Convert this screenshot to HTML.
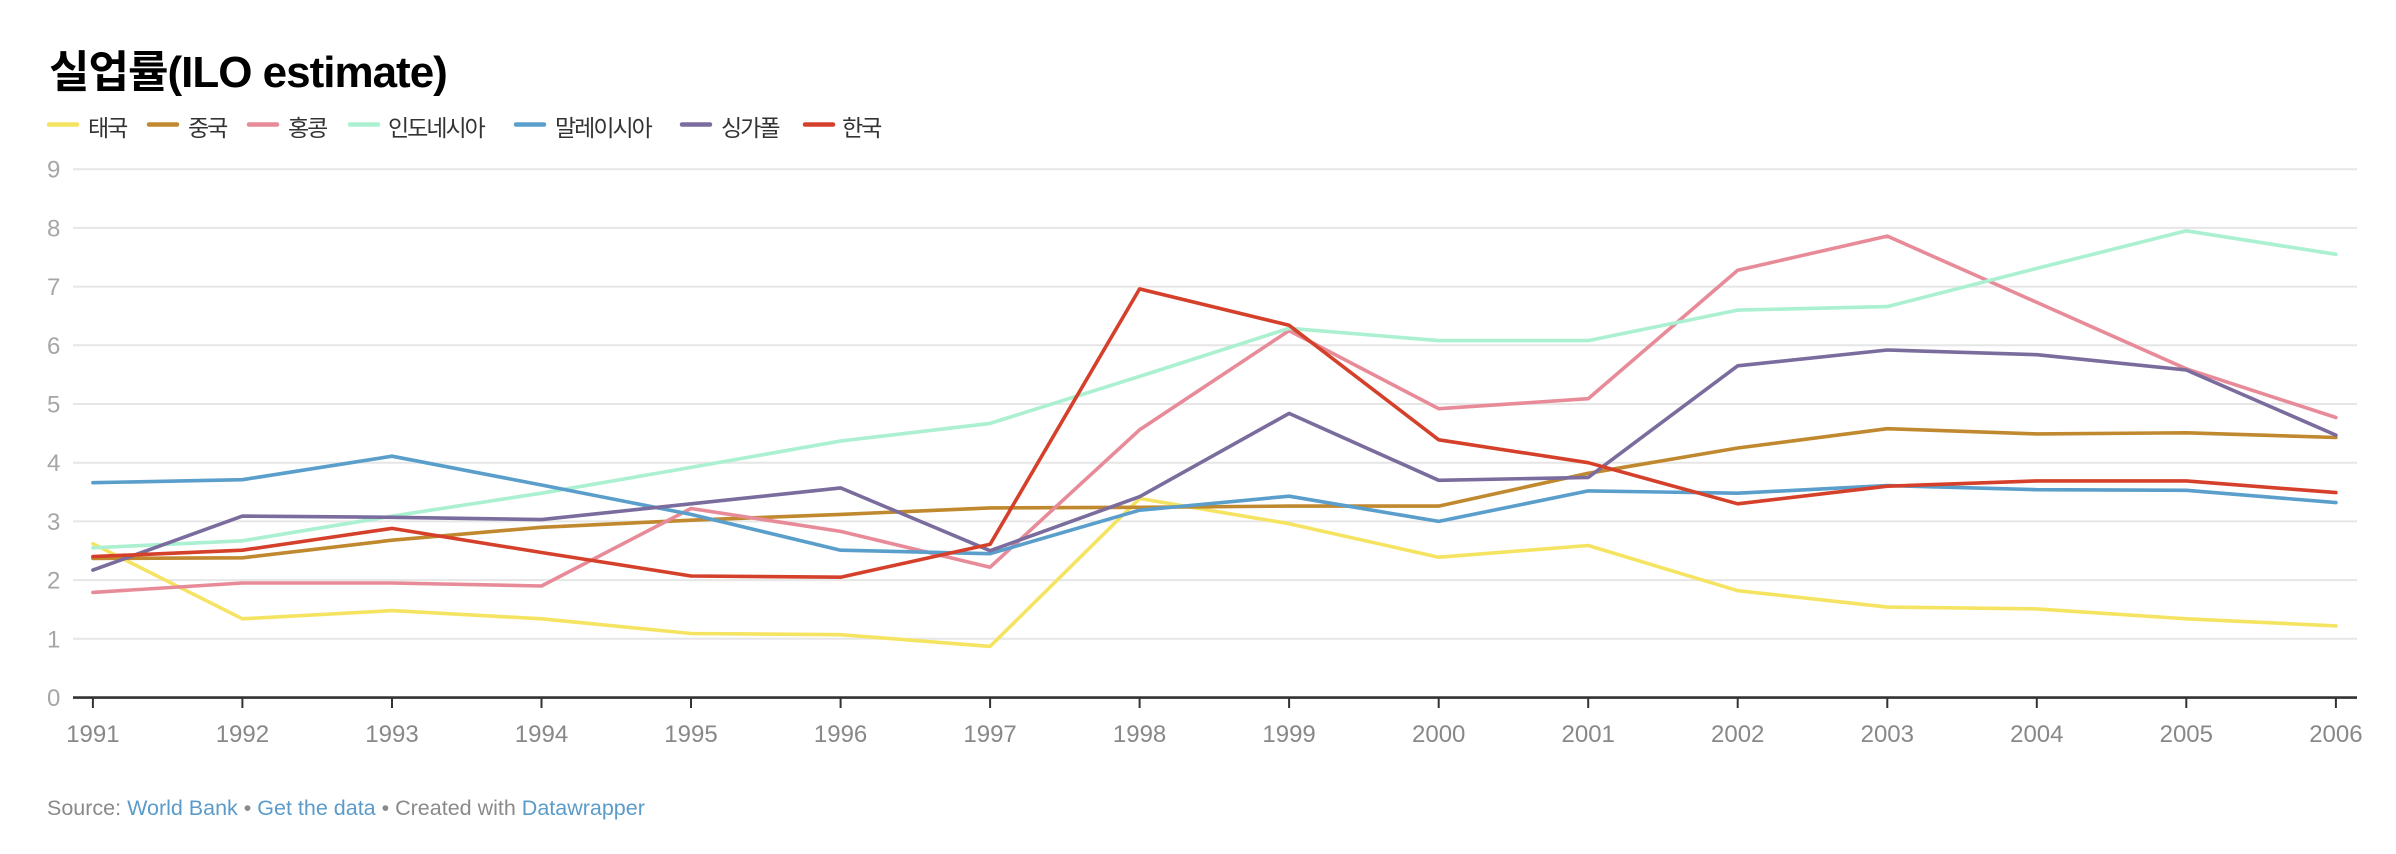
<!DOCTYPE html>
<html>
<head>
<meta charset="utf-8">
<style>
html,body{margin:0;padding:0;background:#fff;}
body{width:2396px;height:854px;overflow:hidden;}
svg{display:block;}
text{font-family:"Liberation Sans","Noto Sans CJK KR",sans-serif;}
</style>
</head>
<body>
<svg width="2396" height="854" viewBox="0 0 2396 854" xmlns="http://www.w3.org/2000/svg">
  <rect width="2396" height="854" fill="#fff"/>
  <!-- title -->
  <text x="49" y="87" font-size="44" font-weight="bold" fill="#000" letter-spacing="-1.0">실업률(ILO estimate)</text>

  <!-- legend -->
  <g stroke-width="4.5" stroke-linecap="round">
    <line x1="49" y1="124.5" x2="77" y2="124.5" stroke="#f5e462"/>
    <line x1="149" y1="124.5" x2="177" y2="124.5" stroke="#c0892f"/>
    <line x1="249" y1="124.5" x2="277" y2="124.5" stroke="#e88b99"/>
    <line x1="350" y1="124.5" x2="378" y2="124.5" stroke="#aaf0d1"/>
    <line x1="516" y1="124.5" x2="544" y2="124.5" stroke="#5a9ecb"/>
    <line x1="682" y1="124.5" x2="710" y2="124.5" stroke="#7b6c9e"/>
    <line x1="805" y1="124.5" x2="833" y2="124.5" stroke="#d5402b"/>
  </g>
  <g font-size="23" fill="#333" letter-spacing="-2">
    <text x="88" y="136">태국</text>
    <text x="188" y="136">중국</text>
    <text x="288" y="136">홍콩</text>
    <text x="388" y="136">인도네시아</text>
    <text x="555" y="136">말레이시아</text>
    <text x="721" y="136">싱가폴</text>
    <text x="842" y="136">한국</text>
  </g>

  <!-- gridlines -->
  <g stroke="#e6e6e6" stroke-width="2">
    <line x1="73" y1="638.8" x2="2357" y2="638.8"/>
    <line x1="73" y1="580.1" x2="2357" y2="580.1"/>
    <line x1="73" y1="521.4" x2="2357" y2="521.4"/>
    <line x1="73" y1="462.7" x2="2357" y2="462.7"/>
    <line x1="73" y1="404.0" x2="2357" y2="404.0"/>
    <line x1="73" y1="345.3" x2="2357" y2="345.3"/>
    <line x1="73" y1="286.6" x2="2357" y2="286.6"/>
    <line x1="73" y1="227.9" x2="2357" y2="227.9"/>
    <line x1="73" y1="169.2" x2="2357" y2="169.2"/>
  </g>

  <!-- y labels -->
  <g font-size="24" fill="#a6a6a6">
    <text x="47" y="706">0</text>
    <text x="47" y="647.3">1</text>
    <text x="47" y="588.6">2</text>
    <text x="47" y="529.9">3</text>
    <text x="47" y="471.2">4</text>
    <text x="47" y="412.5">5</text>
    <text x="47" y="353.8">6</text>
    <text x="47" y="295.1">7</text>
    <text x="47" y="236.4">8</text>
    <text x="47" y="177.7">9</text>
  </g>

  <!-- series -->
  <g fill="none" stroke-width="3.6" stroke-linejoin="round" stroke-linecap="round">
    <polyline stroke="#f5e462" points="92.9,543.7 242.4,618.8 392.0,610.6 541.5,618.8 691.0,633.5 840.6,634.7 990.1,646.4 1139.6,498.5 1289.1,523.7 1438.7,557.2 1588.2,545.5 1737.7,590.7 1887.3,607.1 2036.8,608.9 2186.3,618.8 2335.9,625.9"/>
    <polyline stroke="#c0892f" points="92.9,558.4 242.4,557.8 392.0,540.2 541.5,527.3 691.0,520.2 840.6,514.4 990.1,507.9 1139.6,507.3 1289.1,506.1 1438.7,506.1 1588.2,473.3 1737.7,448.0 1887.3,428.7 2036.8,433.9 2186.3,432.8 2335.9,437.5"/>
    <polyline stroke="#e88b99" points="92.9,592.4 242.4,583.0 392.0,583.0 541.5,586.0 691.0,508.5 840.6,531.4 990.1,567.2 1139.6,429.8 1289.1,330.6 1438.7,408.7 1588.2,398.7 1737.7,270.2 1887.3,236.1 2036.8,302.4 2186.3,368.8 2335.9,417.5"/>
    <polyline stroke="#aaf0d1" points="92.9,547.8 242.4,540.8 392.0,516.1 541.5,493.2 691.0,467.4 840.6,441.0 990.1,423.4 1139.6,376.4 1289.1,328.3 1438.7,340.6 1588.2,340.6 1737.7,310.1 1887.3,306.6 2036.8,268.4 2186.3,230.8 2335.9,254.3"/>
    <polyline stroke="#5a9ecb" points="92.9,482.7 242.4,479.7 392.0,456.2 541.5,485.0 691.0,514.4 840.6,550.2 990.1,553.7 1139.6,510.2 1289.1,496.2 1438.7,521.4 1588.2,490.9 1737.7,493.2 1887.3,485.6 2036.8,489.7 2186.3,490.3 2335.9,502.6"/>
    <polyline stroke="#7b6c9e" points="92.9,570.1 242.4,516.1 392.0,517.3 541.5,519.6 691.0,503.8 840.6,487.9 990.1,550.7 1139.6,496.7 1289.1,413.4 1438.7,480.3 1588.2,477.4 1737.7,365.8 1887.3,350.0 2036.8,354.7 2186.3,370.0 2335.9,435.1"/>
    <polyline stroke="#d5402b" points="92.9,556.6 242.4,550.2 392.0,528.4 541.5,552.5 691.0,576.0 840.6,577.2 990.1,544.3 1139.6,288.9 1289.1,325.3 1438.7,439.8 1588.2,462.7 1737.7,503.8 1887.3,486.2 2036.8,480.9 2186.3,480.9 2335.9,492.6"/>
  </g>

  <!-- x axis -->
  <line x1="73" y1="697.6" x2="2357" y2="697.6" stroke="#333" stroke-width="2.6"/>
  <g stroke="#333" stroke-width="2">
    <line x1="92.9" y1="697" x2="92.9" y2="708"/>
    <line x1="242.4" y1="697" x2="242.4" y2="708"/>
    <line x1="392.0" y1="697" x2="392.0" y2="708"/>
    <line x1="541.5" y1="697" x2="541.5" y2="708"/>
    <line x1="691.0" y1="697" x2="691.0" y2="708"/>
    <line x1="840.6" y1="697" x2="840.6" y2="708"/>
    <line x1="990.1" y1="697" x2="990.1" y2="708"/>
    <line x1="1139.6" y1="697" x2="1139.6" y2="708"/>
    <line x1="1289.1" y1="697" x2="1289.1" y2="708"/>
    <line x1="1438.7" y1="697" x2="1438.7" y2="708"/>
    <line x1="1588.2" y1="697" x2="1588.2" y2="708"/>
    <line x1="1737.7" y1="697" x2="1737.7" y2="708"/>
    <line x1="1887.3" y1="697" x2="1887.3" y2="708"/>
    <line x1="2036.8" y1="697" x2="2036.8" y2="708"/>
    <line x1="2186.3" y1="697" x2="2186.3" y2="708"/>
    <line x1="2335.9" y1="697" x2="2335.9" y2="708"/>
  </g>
  <g font-size="24" fill="#888" text-anchor="middle">
    <text x="92.9" y="742">1991</text>
    <text x="242.4" y="742">1992</text>
    <text x="392.0" y="742">1993</text>
    <text x="541.5" y="742">1994</text>
    <text x="691.0" y="742">1995</text>
    <text x="840.6" y="742">1996</text>
    <text x="990.1" y="742">1997</text>
    <text x="1139.6" y="742">1998</text>
    <text x="1289.1" y="742">1999</text>
    <text x="1438.7" y="742">2000</text>
    <text x="1588.2" y="742">2001</text>
    <text x="1737.7" y="742">2002</text>
    <text x="1887.3" y="742">2003</text>
    <text x="2036.8" y="742">2004</text>
    <text x="2186.3" y="742">2005</text>
    <text x="2335.9" y="742">2006</text>
  </g>

  <!-- footer -->
  <text x="47" y="815" font-size="21.5" fill="#8a8a8a">Source: <tspan fill="#5b9bc9">World Bank</tspan> • <tspan fill="#5b9bc9">Get the data</tspan> • Created with <tspan fill="#5b9bc9">Datawrapper</tspan></text>
</svg>
</body>
</html>
